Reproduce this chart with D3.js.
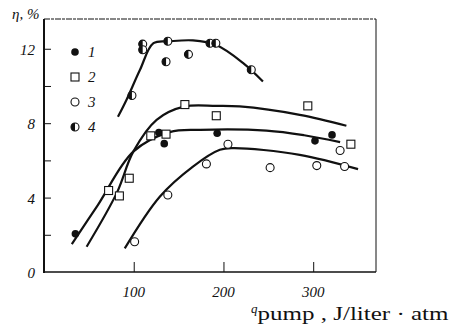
<!DOCTYPE html>
<html><head><meta charset="utf-8">
<script src="https://cdn.jsdelivr.net/npm/d3@7"></script>
<style>body{margin:0;background:#fff}svg{display:block}</style>
</head><body>
<svg id="c" width="450" height="334"></svg>
<script>
// data
const s1 = [[35,2.05],[128,7.5],[134,6.9],[193,7.46],[302,7.05],[321,7.37]];
const s2 = [[72,4.38],[84,4.09],[95,5.04],[119,7.32],[136,7.41],[157,9.0],[192,8.4],[294,8.93],[342,6.87]];
const s3 = [[101,1.63],[138,4.14],[181,5.81],[205,6.87],[252,5.61],[304,5.72],[330,6.53],[335,5.67]];
const s4 = [[98,9.49],[110,12.25],[110,11.95],[138,12.4],[136,11.3],[161,11.7],[185,12.3],[191.5,12.3],[231,10.87]];
const c1 = [[31,1.5],[60,3.6],[99.5,6.47],[140,7.52],[174,7.64],[248,7.6],[290,7.35],[330,6.98]];
const c2 = [[47.5,1.36],[81,4.24],[99.5,6.47],[125.5,8.18],[157,8.9],[192,8.93],[218,8.9],[285,8.45],[337,7.86]];
const c3 = [[90,1.27],[129,4.05],[166,5.67],[196,6.57],[211,6.66],[285,6.3],[350,5.53]];
const c4 = [[82.4,8.34],[92,9.26],[107,10.87],[122,12.3],[140,12.4],[166,12.45],[192,12.2],[222,11.23],[244,10.24]];
const xTicks = [100,200,300];
const yLabels = [0,4,8,12];
const yTicks = [2,4,6,8,10,12];
const legendLabels = ["1","2","3","4"];

const svg = d3.select("#c");
const L=44,R=376,T=19,B=272;
const x = d3.scaleLinear().domain([0,370]).range([L,R]);
const y = d3.scaleLinear().domain([0,13.6]).range([B,T]);
const ink = "#111";
const serif = "'Liberation Serif','DejaVu Serif',serif";

// frame
svg.append("line").attr("x1",L).attr("x2",R).attr("y1",T).attr("y2",T).attr("stroke",ink).attr("stroke-width",1).attr("stroke-dasharray","6,1,3,1");
svg.append("line").attr("x1",R).attr("x2",R).attr("y1",T).attr("y2",B).attr("stroke",ink).attr("stroke-width",1);
svg.append("line").attr("x1",L).attr("x2",L).attr("y1",T).attr("y2",B+1).attr("stroke",ink).attr("stroke-width",2);
svg.append("line").attr("x1",L).attr("x2",R).attr("y1",B).attr("y2",B).attr("stroke",ink).attr("stroke-width",1.6);

// axes ticks via d3 axes
const xAx = d3.axisTop(x).tickValues(xTicks).tickSize(10).tickFormat("");
svg.append("g").attr("transform",`translate(0,${B})`).call(xAx).call(g=>{g.select(".domain").remove();g.selectAll("line").attr("stroke",ink).attr("stroke-width",1);});
const yAx = d3.axisRight(y).tickValues(yTicks).tickSize(7).tickFormat("");
svg.append("g").attr("transform",`translate(${L},0)`).call(yAx).call(g=>{g.select(".domain").remove();g.selectAll("line").attr("stroke",ink).attr("stroke-width",1);});

svg.selectAll(".xl").data(xTicks).enter().append("text")
  .attr("x",d=>x(d)).attr("y",B+25).attr("text-anchor","middle")
  .attr("font-family",serif).attr("font-style","italic").attr("font-size",15).attr("fill",ink).text(d=>d);
svg.selectAll(".yl").data(yLabels).enter().append("text")
  .attr("x",35).attr("y",d=>y(d)+6).attr("text-anchor","end")
  .attr("font-family",serif).attr("font-style","italic").attr("font-size",15).attr("fill",ink).text(d=>d);

// y title
svg.append("text").attr("x",12).attr("y",19).attr("font-family",serif).attr("font-style","italic").attr("font-size",15).attr("fill",ink).text("η, %");
// x title
const xt = svg.append("text").attr("x",251).attr("y",320).attr("font-family",serif).attr("font-size",18).attr("fill",ink);
xt.append("tspan").attr("font-style","italic").attr("font-size",13).attr("dy",-7).text("q");
xt.append("tspan").attr("dy",7).attr("dx",0).attr("textLength",191).attr("lengthAdjust","spacingAndGlyphs").text("pump , J/liter · atm");

// curves
const line = d3.line().x(d=>x(d[0])).y(d=>y(d[1])).curve(d3.curveCatmullRom.alpha(0.5));
[c1,c2,c3,c4].forEach(c=>{
  svg.append("path").attr("d",line(c)).attr("fill","none").attr("stroke",ink).attr("stroke-width",2.2);
});

// markers
function marker(g,type,cx,cy){
  if(type===0){g.append("circle").attr("cx",cx).attr("cy",cy).attr("r",3.8).attr("fill",ink);}
  else if(type===1){g.append("rect").attr("x",cx-4).attr("y",cy-4).attr("width",8).attr("height",8).attr("fill","#fff").attr("stroke",ink).attr("stroke-width",1.1);}
  else if(type===2){g.append("circle").attr("cx",cx).attr("cy",cy).attr("r",4).attr("fill","#fff").attr("stroke",ink).attr("stroke-width",1.1);}
  else {
    g.append("circle").attr("cx",cx).attr("cy",cy).attr("r",4).attr("fill","#fff").attr("stroke",ink).attr("stroke-width",1.1);
    g.append("path").attr("d",`M${cx},${cy-4} A4,4 0 0,0 ${cx},${cy+4} Z`).attr("fill",ink);
  }
}
const mg = svg.append("g");
[s1,s2,s3,s4].forEach((s,i)=>s.forEach(d=>marker(mg,i,x(d[0]),y(d[1]))));

// legend
legendLabels.forEach((lab,i)=>{
  const ly = 52 + i*25;
  marker(mg,i,75,ly);
  svg.append("text").attr("x",88).attr("y",ly+5).attr("font-family",serif).attr("font-style","italic").attr("font-size",15).attr("fill",ink).text(lab);
});
</script>
</body></html>
